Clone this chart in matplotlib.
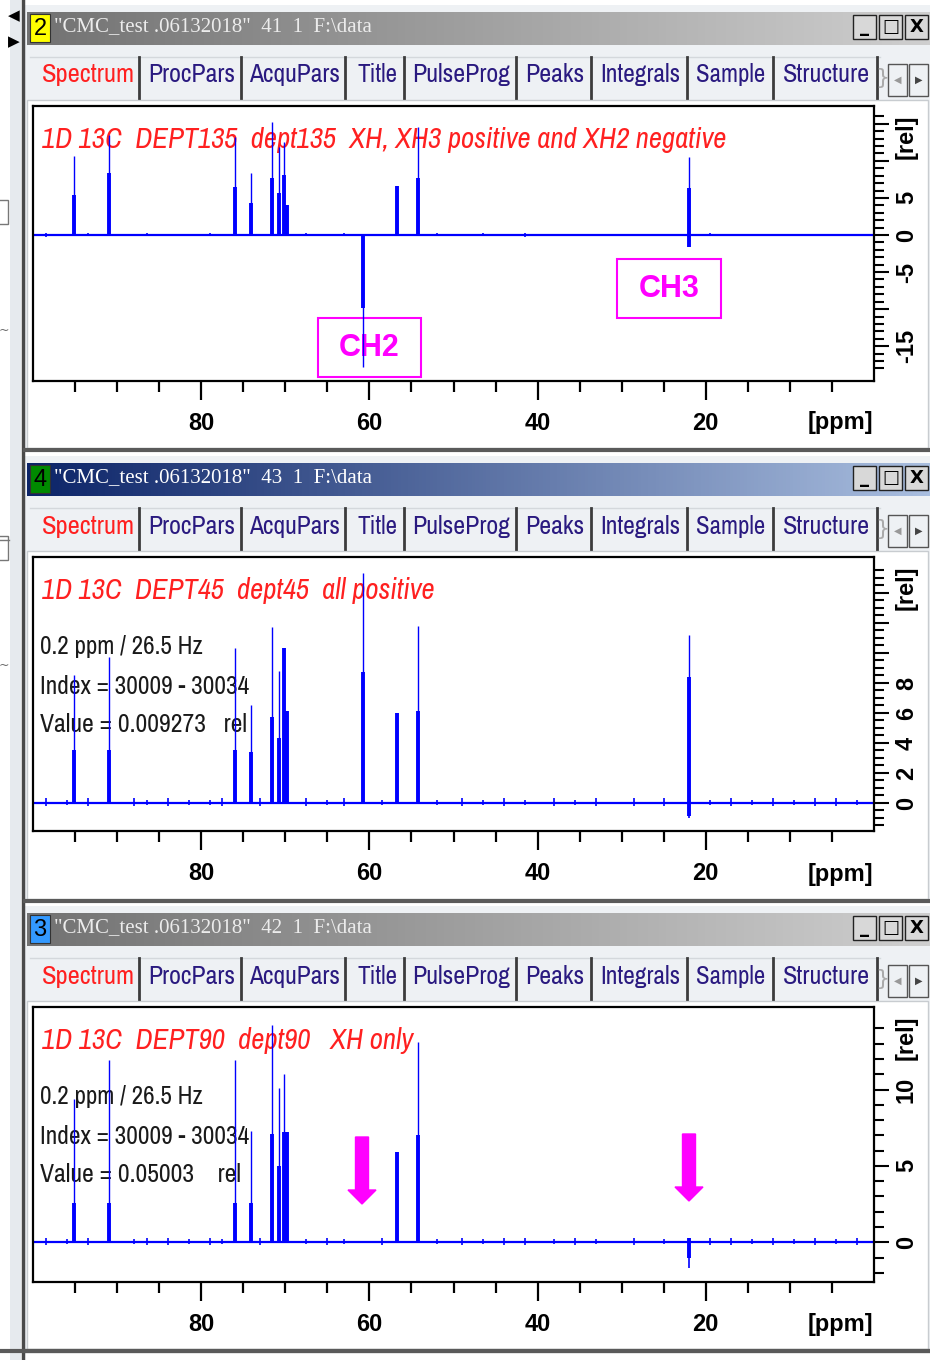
import matplotlib
matplotlib.use('Agg')
import numpy as np
import matplotlib.pyplot as plt
from matplotlib import font_manager
from matplotlib.patches import Rectangle, FancyArrow
from matplotlib.colors import LinearSegmentedColormap

# peak positions (ppm), shared by all three spectra
peak_ppm = [95.1, 91.0, 76.0, 74.1, 71.6, 70.8, 70.2, 69.8, 60.8, 56.7, 54.2, 22.0]

# tip = thin top of each line, body = thick part, dip = negative wiggle
dept135_tip = [10.7, 13.5, 13.2, 8.4, 15.3, 11.9, 12.6, 4.1, -17.8, 6.6, 14.5, 10.5]
dept135_body = [5.4, 8.4, 6.5, 4.3, 7.7, 5.7, 8.1, 4.1, -9.9, 6.6, 7.7, 6.4]
dept135_dip = [0, 0, 0, 0, 0, 0, 0, 0, 0, 0, 0, -1.6]
dept135_dip_tip = [0, 0, 0, 0, 0, 0, 0, 0, 0, 0, 0, -1.6]

dept45_tip = [8.5, 9.7, 10.3, 6.5, 11.7, 8.8, 10.3, 6.1, 15.3, 6.0, 11.8, 11.2]
dept45_body = [3.5, 3.5, 3.5, 3.4, 5.7, 4.3, 10.3, 6.1, 8.7, 6.0, 6.1, 8.4]
dept45_dip = [0, 0, 0, 0, 0, 0, 0, 0, 0, 0, 0, -0.9]
dept45_dip_tip = [0, 0, 0, 0, 0, 0, 0, 0, 0, 0, 0, -1.0]

dept90_tip = [9.4, 11.9, 11.9, 7.3, 14.2, 10.1, 11.0, 7.2, 0, 5.9, 13.1, 0.3]
dept90_body = [2.6, 2.6, 2.6, 2.6, 7.1, 5.0, 7.2, 7.2, 0, 5.9, 7.0, 0.3]
dept90_dip = [0, 0, 0, 0, 0, 0, 0, 0, 0, 0, 0, -1.0]
dept90_dip_tip = [0, 0, 0, 0, 0, 0, 0, 0, 0, 0, 0, -1.7]

# small baseline wiggles
blip_ppm = [98.5, 96.0, 93.5, 88.0, 86.5, 84.0, 81.5, 79.0, 77.5, 73.0, 67.5,
            65.0, 63.0, 58.5, 52.0, 49.0, 46.5, 44.0, 41.5, 38.0, 35.5, 33.0,
            28.5, 25.0, 19.5, 17.0, 14.5, 12.0, 9.5, 7.0, 4.5, 2.0]
dept135_blip = [0.3, 0, 0.2, 0, 0.2, 0, 0, 0.2, 0, 0, 0.2, 0, 0.2, 0, 0.2, 0,
                0.2, 0, 0.3, 0, 0, 0, 0, 0, 0.2, 0, 0, 0, 0, 0, 0, 0]
dept45_blip = [0.3, 0.2, 0.3, 0.3, 0.2, 0.3, 0.2, 0.2, 0.3, 0.3, 0.3, 0.2, 0.3,
               0.2, 0.2, 0.3, 0.2, 0.3, 0.2, 0.3, 0.2, 0.3, 0.3, 0.3, 0.2, 0.3,
               0.2, 0.3, 0.2, 0.3, 0.3, 0.2]
dept90_blip = [0.3, 0.2, 0.3, 0.2, 0.3, 0.3, 0.2, 0.3, 0.2, 0.3, 0.2, 0.3, 0.2,
               0.3, 0.2, 0.3, 0.2, 0.3, 0.3, 0.2, 0.3, 0.2, 0.3, 0.2, 0.3, 0.3,
               0.2, 0.3, 0.2, 0.3, 0.2, 0.3]

x_major = [80, 60, 40, 20]
x_minor = [95, 90, 85, 75, 70, 65, 55, 50, 45, 35, 30, 25, 15, 10, 5]

tab_names = ["Spectrum", "ProcPars", "AcquPars", "Title", "PulseProg",
             "Peaks", "Integrals", "Sample", "Structure"]

window_titles = ['"CMC_test .06132018"  41  1  F:\\data',
                 '"CMC_test .06132018"  43  1  F:\\data',
                 '"CMC_test .06132018"  42  1  F:\\data']
window_numbers = ["2", "4", "3"]
spec_titles = ["1D 13C  DEPT135  dept135  XH, XH3 positive and XH2 negative",
               "1D 13C  DEPT45  dept45  all positive",
               "1D 13C  DEPT90  dept90   XH only"]
info_45 = ["0.2 ppm / 26.5 Hz", "Index = 30009 - 30034", "Value = 0.009273   rel"]
info_90 = ["0.2 ppm / 26.5 Hz", "Index = 30009 - 30034", "Value = 0.05003    rel"]

BLUE = "#0000ff"
MAGENTA = "#ff00ff"
SANS = ["Liberation Sans", "DejaVu Sans"]
SERIF = ["Liberation Serif", "DejaVu Serif"]

# look for a narrow sans font, like the Windows GUI font in the screenshot
narrow = [f.name for f in font_manager.fontManager.ttflist
          if ("Narrow" in f.name or "Condensed" in f.name)
          and "Serif" not in f.name and "Mono" not in f.name]
NARROW = sorted(set(narrow))[:1] + SANS

W, H = 930, 1360
fig = plt.figure(figsize=(W / 100, H / 100), dpi=100)
fig.patch.set_facecolor("white")
renderer = fig.canvas.get_renderer()

gui = fig.add_axes([0, 0, 1, 1])
gui.axis("off")
gui.set_xlim(0, W)
gui.set_ylim(H, 0)


def px_axes(x0, y0, x1, y1):
    return fig.add_axes([x0 / W, 1 - y1 / H, (x1 - x0) / W, (y1 - y0) / H])


def rect(x0, y0, x1, y1, **kw):
    gui.add_patch(Rectangle((x0, y0), x1 - x0, y1 - y0, **kw))


def fit(t, width):
    # shrink / grow the font so the text spans the width seen in the screenshot
    w = t.get_window_extent(renderer).width
    t.set_fontsize(t.get_fontsize() * width / w)


# left strip of the main window
rect(0, 0, 22, H, facecolor="white", edgecolor="none")
rect(10, 0, 21, H, facecolor="#e6eaee", edgecolor="none")
gui.plot([22.5, 22.5], [0, H], color="#4a4a4a", lw=2.5)
gui.text(14, 16, "◀", fontsize=11, ha="center", va="center", color="black")
gui.text(14, 42, "▶", fontsize=11, ha="center", va="center", color="black")
rect(-4, 200, 8, 224, facecolor="white", edgecolor="#777777", lw=1)
gui.text(4, 330, "~", fontsize=9, ha="center", va="center", color="#666666")
gui.plot([0, 9], [540, 540], color="#777777", lw=1)
rect(-4, 536, 8, 560, facecolor="white", edgecolor="#777777", lw=1)
gui.text(4, 665, "~", fontsize=9, ha="center", va="center", color="#666666")

bar_cmaps = [
    LinearSegmentedColormap.from_list("inact", ["#727272", "#cfcfcf"]),
    LinearSegmentedColormap.from_list("act", ["#0c2468", "#a9bedf"]),
    LinearSegmentedColormap.from_list("inact2", ["#727272", "#cfcfcf"]),
]
badge_colors = ["#ffff00", "#008a00", "#3399ff"]
title_colors = ["#ececec", "white", "#ececec"]
gradient = np.linspace(0, 1, 256).reshape(1, -1)

tab_left = [42, 148, 249, 357, 412, 525, 600, 696, 783]
tab_width = [93, 87, 91, 40, 98, 59, 80, 69, 87]
tab_seps = [139, 241, 345, 404, 516, 591, 687, 773, 877]
offsets = [0, 451, 901]
title_width = [683, 392, 370]

for i, off in enumerate(offsets):
    # panel frame
    rect(25, 5 + off, 930, 450 + off, facecolor="#eef1f4", edgecolor="none")
    rect(27, 100 + off, 928, 448 + off, facecolor="white", edgecolor="#c8ccd0", lw=1)
    # title bar
    gui.imshow(gradient, cmap=bar_cmaps[i], aspect="auto",
               extent=[27, 930, 45 + off, 12 + off], zorder=1)
    rect(30, 14 + off, 50, 42 + off, facecolor=badge_colors[i],
         edgecolor="#333333", lw=0.8, zorder=2)
    gui.text(40, 29 + off, window_numbers[i], fontsize=17, ha="center",
             va="center", color="black", family=SANS, zorder=3)
    t = gui.text(54, 27 + off, window_titles[i], fontsize=15, ha="left",
                 va="center", color=title_colors[i], family=SERIF, zorder=3)
    fit(t, 318)
    for bx, sym in zip([853, 879, 905], ["_", "□", "X"]):
        rect(bx, 15 + off, bx + 23, 39 + off, facecolor="#d8d8d8",
             edgecolor="#222222", lw=1, zorder=2)
        gui.text(bx + 11.5, 27 + off, sym, fontsize=13, ha="center",
                 va="center", fontweight="bold", color="black",
                 family=["DejaVu Sans"], zorder=3)
    # tab row
    gui.plot([30, 880], [57 + off, 57 + off], color="#d4d8dc", lw=1)
    for x in tab_seps:
        gui.plot([x, x], [57 + off, 98 + off], color="#3c3c3c", lw=2)
    for name, x0, w in zip(tab_names, tab_left, tab_width):
        t = gui.text(x0, 75 + off, name, fontsize=18, ha="left", va="center",
                     color="#ff2020" if name == "Spectrum" else "#2a1a80",
                     family=NARROW)
        fit(t, w)
    gui.text(882, 78 + off, "}", fontsize=16, ha="center", va="center",
             color="#aaaaaa")
    for bx, sym in zip([888, 909], ["◀", "▶"]):
        rect(bx, 64 + off, bx + 19, 96 + off, facecolor="#eef1f4",
             edgecolor="#555555", lw=1)
        gui.text(bx + 9.5, 80 + off, sym, fontsize=7, ha="center",
                 va="center", color="#444444" if sym == "▶" else "#999999")
    # separator between panels
    gui.plot([25, 930], [450 + off, 450 + off], color="#5a5a5a", lw=3)
    # spectrum title
    t = gui.text(42, 140 + off, spec_titles[i], fontsize=21, style="italic",
                 ha="left", va="center", color="#ff2020", family=NARROW)
    fit(t, title_width[i])
    gui.text(840, 423 + off, "[ppm]", fontsize=17, fontweight="bold",
             ha="center", va="center", family=SANS)
    gui.text(906, 137 + off, "[rel]", fontsize=17, fontweight="bold",
             rotation=90, ha="center", va="center", family=SANS)

info_width = [163, 209, 207]
for info, off in zip([info_45, info_90], [451, 901]):
    for j, line in enumerate(info):
        t = gui.text(40, 196 + j * 39 + off, line, fontsize=18, ha="left",
                     va="center", color="#1a1a1a", family=NARROW)
        fit(t, info_width[j] if off == 451 or j < 2 else 201)

# CH2 / CH3 boxes and the two arrows
rect(318, 318, 421, 377, facecolor="none", edgecolor=MAGENTA, lw=1.5)
gui.text(369, 348, "CH2", fontsize=22, fontweight="bold", color=MAGENTA,
         ha="center", va="center", family=SANS)
rect(617, 259, 721, 318, facecolor="none", edgecolor=MAGENTA, lw=1.5)
gui.text(669, 289, "CH3", fontsize=22, fontweight="bold", color=MAGENTA,
         ha="center", va="center", family=SANS)
for ax_x, y0 in [(362, 1137), (689, 1134)]:
    gui.add_patch(FancyArrow(ax_x, y0, 0, 67, width=13, head_width=28,
                             head_length=14, length_includes_head=True,
                             color=MAGENTA))

gui.plot([0, W], [1351, 1351], color="#5a5a5a", lw=3)
gui.set_xlim(0, W)
gui.set_ylim(H, 0)


def spectrum(ax, tip, body, dip, dip_tip, blip, ylim, major, labels, minor):
    ax.set_facecolor("none")
    ax.axhline(0, color=BLUE, lw=1.6)
    ax.vlines(peak_ppm, 0, tip, color=BLUE, lw=1.0)
    ax.vlines(peak_ppm, 0, body, color=BLUE, lw=2.8)
    ax.vlines(peak_ppm, 0, dip_tip, color=BLUE, lw=1.2)
    ax.vlines(peak_ppm, 0, dip, color=BLUE, lw=2.8)
    ax.vlines(blip_ppm, 0, blip, color=BLUE, lw=1.2)
    ax.vlines(blip_ppm, 0, [-b * 0.7 for b in blip], color=BLUE, lw=1.2)
    ax.set_xlim(100, 0)
    ax.set_ylim(*ylim)
    for s in ax.spines.values():
        s.set_linewidth(1.6)
    ax.set_xticks(x_major)
    ax.set_xticklabels([str(v) for v in x_major], fontweight="bold",
                       family=SANS, fontsize=17)
    ax.set_xticks(x_minor, minor=True)
    ax.yaxis.tick_right()
    ax.set_yticks(major)
    ax.set_yticklabels(labels, fontweight="bold", family=SANS, fontsize=17,
                       rotation=90, va="center")
    ax.set_yticks(minor, minor=True)
    ax.tick_params(axis="x", which="major", direction="out", length=14,
                   width=1.6, pad=8)
    ax.tick_params(axis="x", which="minor", direction="out", length=8,
                   width=1.6)
    ax.tick_params(axis="y", which="major", direction="out", length=11,
                   width=1.5, pad=4)
    ax.tick_params(axis="y", which="minor", direction="out", length=7,
                   width=1.5)


ax1 = px_axes(33, 106, 874, 381)
spectrum(ax1, dept135_tip, dept135_body, dept135_dip, dept135_dip_tip,
         dept135_blip, (-19.7, 17.4), [-15, -10, -5, 0, 5, 10, 15],
         ["-15", "", "-5", "0", "5", "", ""], list(range(-18, 17)))

ax2 = px_axes(33, 557, 874, 831)
spectrum(ax2, dept45_tip, dept45_body, dept45_dip, dept45_dip_tip,
         dept45_blip, (-1.87, 16.4), [0, 2, 4, 6, 8, 10, 12, 14],
         ["0", "2", "4", "6", "8", "", "", ""],
         list(np.arange(-1.5, 16.0, 0.5)))

ax3 = px_axes(33, 1007, 874, 1282)
spectrum(ax3, dept90_tip, dept90_body, dept90_dip, dept90_dip_tip,
         dept90_blip, (-2.6, 15.4), [0, 5, 10], ["0", "5", "10"],
         list(range(-2, 15)))

fig.savefig("out.png", dpi=100)
